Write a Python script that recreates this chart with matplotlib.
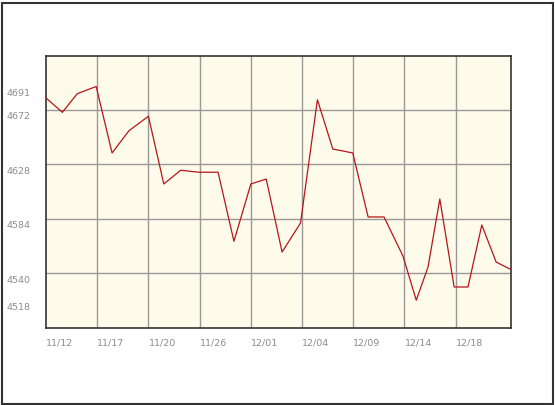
import matplotlib
matplotlib.use("Agg")
import matplotlib.pyplot as plt
from matplotlib.transforms import ScaledTranslation
from matplotlib.patches import Rectangle

# position of each trading day, in units of the labelled grid columns
x_pos = [0.00, 0.32, 0.61, 0.98, 1.29, 1.62, 2.00, 2.30, 2.63, 2.99,
         3.36, 3.67, 4.00, 4.30, 4.61, 4.97, 5.30, 5.60, 5.99, 6.29,
         6.60, 6.97, 7.23, 7.46, 7.69, 7.97, 8.24, 8.51, 8.79, 9.06]
# closing values
values = [4681.7, 4670.1, 4685.2, 4691.0, 4637.2, 4655.2, 4666.9, 4612.1, 4623.2, 4621.6,
          4621.6, 4565.7, 4612.1, 4616.1, 4557.0, 4580.5, 4680.3, 4640.4, 4637.2, 4585.4,
          4585.4, 4553.8, 4518.0, 4544.9, 4599.9, 4528.7, 4528.7, 4578.9, 4548.9, 4543.2]
date_labels = ["11/12", "11/17", "11/20", "11/26", "12/01", "12/04", "12/09", "12/14", "12/18"]
y_ticks = [4518, 4540, 4584, 4628, 4672, 4691]
y_grid = [4540, 4584, 4628, 4672]

fig = plt.figure(figsize=(5.55, 4.05), dpi=100)
fig.patch.set_facecolor("white")
# outer frame of the picture
fig.add_artist(Rectangle((1.5 / 555, 1.5 / 405), 551 / 555, 401 / 405, transform=fig.transFigure,
                         fill=False, edgecolor="#333333", linewidth=1.5))

ax = fig.add_axes([46 / 555, 77 / 405, 465 / 555, 272 / 405])
ax.set_facecolor("#fefbea")

for k in range(1, len(date_labels)):
    ax.axvline(k, color="#999999", linewidth=1.0, zorder=1)
for v in y_grid:
    ax.axhline(v, color="#999999", linewidth=1.0, zorder=1)

ax.plot(x_pos, values, color="#b5161c", linewidth=0.9, zorder=3)

ax.set_xlim(0, 9.08)
ax.set_ylim(4495.5, 4715.7)

ax.set_xticks(range(len(date_labels)), date_labels)
ax.set_yticks(y_ticks, [str(t) for t in y_ticks])
ax.tick_params(length=0, labelsize=6.8, labelcolor="#8c8c8c")
ax.tick_params(axis="y", pad=11.5)
ax.tick_params(axis="x", pad=7.5)
for lbl in ax.get_xticklabels():
    lbl.set_horizontalalignment("left")
off = ScaledTranslation(0, -0.06, fig.dpi_scale_trans)
for lbl in ax.get_yticklabels():
    lbl.set_transform(lbl.get_transform() + off)

for s in ax.spines.values():
    s.set_color("#333333")
    s.set_linewidth(1.2)

fig.savefig("out.png", dpi=100)
